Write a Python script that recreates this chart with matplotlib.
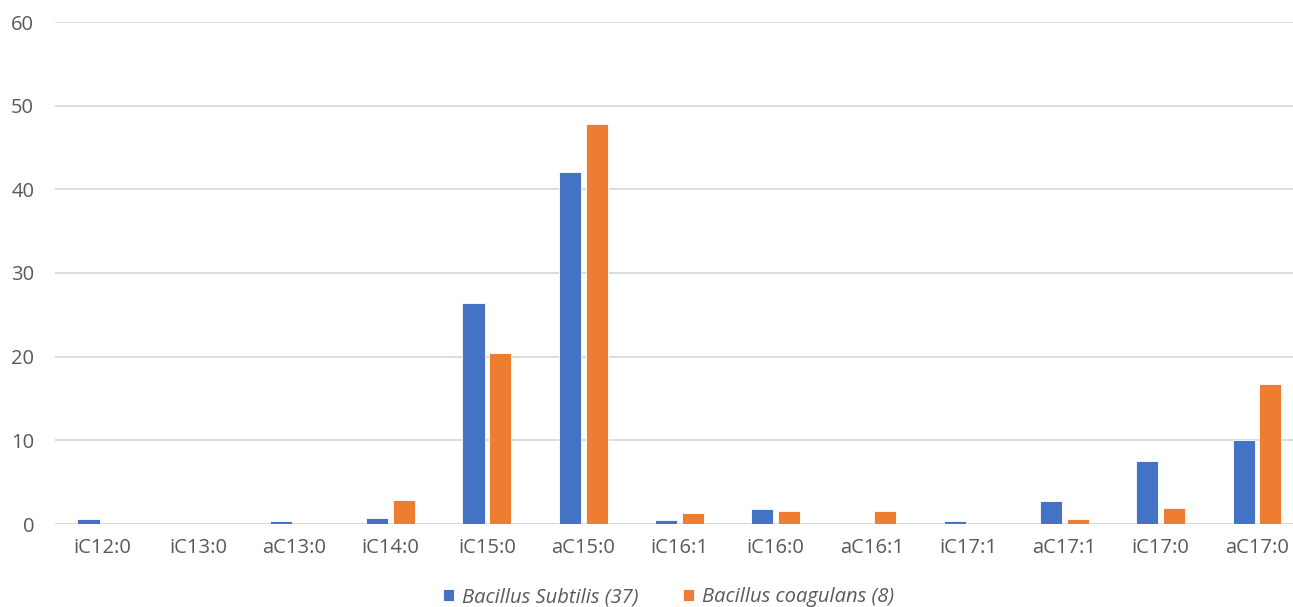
import numpy as np
import matplotlib
matplotlib.use("Agg")
import matplotlib.pyplot as plt

# fatty acid profile, percent of total
acids = ["iC12:0", "iC13:0", "aC13:0", "iC14:0", "iC15:0", "aC15:0", "iC16:1",
         "iC16:0", "aC16:1", "iC17:1", "aC17:1", "iC17:0", "aC17:0"]
subtilis = [0.65, 0, 0.3, 0.75, 26.4, 42.1, 0.45, 1.75, 0, 0.3, 2.8, 7.5, 10.0]
coagulans = [0, 0, 0, 2.9, 20.4, 47.8, 1.35, 1.6, 1.6, 0, 0.6, 1.95, 16.7]

plt.rcParams['font.family'] = ['Open Sans', 'DejaVu Sans']

fig = plt.figure(figsize=(12.93, 6.07), dpi=100)
ax = fig.add_axes([55 / 1293, 83 / 607, 1 - 55 / 1293, (524 - 22) / 607])

x = np.arange(len(acids))
w = 0.229
ax.bar(x - 0.14, subtilis, w, color="#4472C4", edgecolor="white", linewidth=0.6,
       label="Bacillus Subtilis (37)", zorder=3)
ax.bar(x + 0.14, coagulans, w, color="#ED7D31", edgecolor="white", linewidth=0.6,
       label="Bacillus coagulans (8)", zorder=3)

ax.set_xlim(-0.488, 12.374)
ax.set_ylim(0, 60)
ax.set_yticks(range(0, 61, 10))
ax.set_xticks(x)
ax.set_xticklabels(acids)
ax.yaxis.grid(True, color="#d9d9d9", linewidth=1.3, zorder=0)
ax.axhline(0, color="#d9d9d9", linewidth=1.5, zorder=2)
for s in ax.spines.values():
    s.set_visible(False)
ax.tick_params(axis="both", length=0, labelsize=14.5, labelcolor="#595959")
ax.tick_params(axis="x", pad=10)
ax.tick_params(axis="y", pad=15)

leg = fig.legend(loc="lower center", bbox_to_anchor=(0.517, -0.03), ncol=2,
                 frameon=False, handlelength=0.55, handleheight=0.55,
                 handletextpad=0.4, columnspacing=2.2,
                 prop={"size": 14.5, "style": "italic"})
for t in leg.get_texts():
    t.set_color("#595959")

fig.savefig("out.png", dpi=100)
